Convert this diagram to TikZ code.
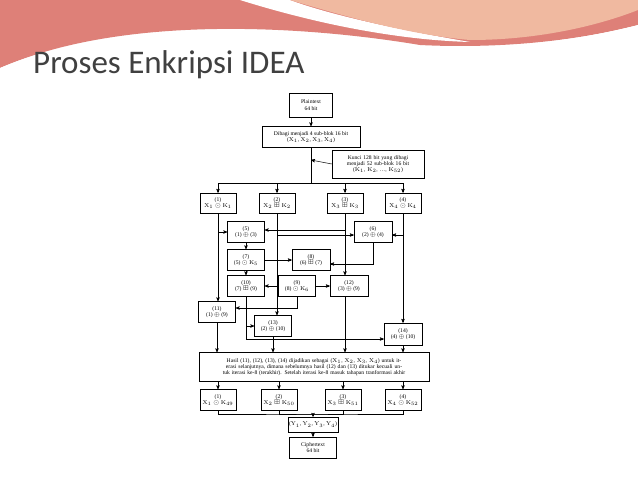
\documentclass[tikz,border=0pt]{standalone}
\usepackage{amsmath}
\usepackage{amssymb}
\usepackage{fontspec}
\newfontfamily\slidefont{Carlito}
\newfontfamily\boxfont{Liberation Serif}
\usetikzlibrary{arrows}
\usetikzlibrary{positioning}
\definecolor{wavepink}{RGB}{222,128,120}
\definecolor{wavepeach}{RGB}{240,185,160}
\definecolor{titlegray}{RGB}{64,64,64}
\newcommand{\tinytext}{\boxfont\fontsize{5.6}{6.2}\selectfont}
\newcommand{\X}[1]{\mathrm{X}_{#1}}
\newcommand{\K}[1]{\mathrm{K}_{#1}}
\newcommand{\Y}[1]{\mathrm{Y}_{#1}}

\begin{document}
\begin{tikzpicture}[x=1pt,y=-1pt,>=stealth',shorten >=0pt,
    step box/.style={draw,line width=0.5pt,fill=white,font=\tinytext,align=center,inner sep=1pt,minimum width=36pt,minimum height=21pt},
    wide box/.style={step box,text width=#1},
    flow/.style={->,line width=0.5pt}]
   \useasboundingbox (0,0) rectangle (638,479);
   % slide background
   \fill[white] (0,0) rectangle (638,479);
   \fill[wavepink] (0,0) -- (638,0) -- (638,25) .. controls (560,45) and (480,48) .. (420,45)
      .. controls (300,25) and (120,15) .. (0,68) -- cycle;
   \fill[white] (240,0) .. controls (320,25) and (400,40) .. (470,42)
      .. controls (400,30) and (330,15) .. (290,0) -- cycle;
   \fill[wavepeach] (290,0) .. controls (340,15) and (410,35) .. (470,40)
      .. controls (540,40) and (600,25) .. (638,10) -- (638,0) -- cycle;
   \fill[white] (0,68) .. controls (120,18) and (300,28) .. (420,46)
      .. controls (480,50) and (560,45) .. (638,25) -- (638,30)
      .. controls (560,50) and (480,55) .. (420,52) .. controls (300,35) and (120,30) .. (0,75) -- cycle;
   \node[anchor=base west,font=\slidefont\fontsize{33}{36}\selectfont,text=titlegray,inner sep=0pt] (title) at (33,73) {Proses Enkripsi IDEA};

   % diagram
   \node[step box,minimum width=43pt,minimum height=24pt] (plain) at (311,105) {Plaintext\\64 bit};
   \node[step box,minimum width=98pt] (split) at (311,137) {Dibagi menjadi 4 sub-blok 16 bit\\($\X1$, $\X2$, $\X3$, $\X4$)};
   \node[wide box=90pt,minimum height=28pt] (key) at (378,164) {Kunci 128 bit yang dibagi menjadi 52 sub-blok 16 bit\\($\K1$, $\K2$, \dots, $\K{52}$)};
   \node[step box,minimum height=20pt] (s1) at (218,203) {(1)\\$\X1\odot\K1$};
   \node[step box,minimum height=20pt] (s2) at (277,203) {(2)\\$\X2\boxplus\K2$};
   \node[step box,minimum height=20pt] (s3) at (345,203) {(3)\\$\X3\boxplus\K3$};
   \node[step box,minimum height=20pt] (s4) at (403,203) {(4)\\$\X4\odot\K4$};
   \node[step box,minimum width=37pt] (s5) at (246,232) {(5)\\(1) $\oplus$ (3)};
   \node[step box,minimum width=38pt] (s6) at (373,232) {(6)\\(2) $\oplus$ (4)};
   \node[step box,minimum width=37pt] (s7) at (246,260) {(7)\\(5) $\odot$ $\K5$};
   \node[step box,minimum width=38pt] (s8) at (311,260) {(8)\\(6) $\boxplus$ (7)};
   \node[step box,minimum width=37pt] (s10) at (246,286) {(10)\\(7) $\boxplus$ (9)};
   \node[step box,minimum width=37pt] (s9) at (297,286) {(9)\\(8) $\odot$ $\K6$};
   \node[step box,minimum width=38pt] (s12) at (349,286) {(12)\\(3) $\oplus$ (9)};
   \node[step box,minimum width=37pt] (s11) at (217,312) {(11)\\(1) $\oplus$ (9)};
   \node[step box,minimum width=37pt] (s13) at (273,326) {(13)\\(2) $\oplus$ (10)};
   \node[step box,minimum width=38pt,minimum height=22pt] (s14) at (403,334) {(14)\\(4) $\oplus$ (10)};
   \node[wide box=228pt,minimum height=29pt] (result) at (314,367) {\hyphenpenalty=10000 Hasil (11), (12), (13), (14) dijadikan sebagai ($\X1$, $\X2$, $\X3$, $\X4$) untuk iterasi selanjutnya, dimana sebelumnya hasil (12) dan (13) ditukar kecuali untuk iterasi ke-8 (terakhir). Setelah iterasi ke-8 masuk tahapan tranformasi akhir};
   \node[step box] (f1) at (218,400) {(1)\\$\X1\odot\K{49}$};
   \node[step box] (f2) at (279,400) {(2)\\$\X2\boxplus\K{50}$};
   \node[step box] (f3) at (343,400) {(3)\\$\X3\boxplus\K{51}$};
   \node[step box] (f4) at (403,400) {(4)\\$\X4\odot\K{52}$};
   \node[step box,minimum width=48pt,minimum height=15pt] (out) at (313,424.5) {($\Y1$, $\Y2$, $\Y3$, $\Y4$)};
   \node[step box,minimum width=47pt,minimum height=21pt] (cipher) at (313,447.5) {Ciphertext\\64 bit};

   \coordinate (bus) at (311,183);
   \coordinate (keyin) at (311,160);
   \coordinate (lowbus) at (313,414);

   \draw[flow] (plain) -- (split);
   \draw[line width=0.5pt] (split) -- (bus);
   \draw[flow] (key.west) -- (keyin);
   \draw[line width=0.5pt] (s1.north |- bus) -- (s4.north |- bus);
   \foreach \s in {s1,s2,s3,s4}
     \draw[flow] (bus -| \s.north) -- (\s.north);
   % first round
   \draw[flow] (s1.south) -- (s11.north -| s1.south);
   \draw[flow] (s1.south |- s5) -- (s5.west);
   \draw[flow] ([yshift=2pt]s3.south |- s5.east) -- ([yshift=2pt]s5.east);
   \draw[flow] ([yshift=-3pt]s2.south |- s6.west) -- ([yshift=-3pt]s6.west);
   \draw[flow] ([yshift=-3pt]s4.south |- s6.east) -- ([yshift=-3pt]s6.east);
   \draw[flow] (s5) -- (s7);
   \draw[flow] (s7) -- (s10);
   \draw[flow] (s7) -- (s8);
   \draw[flow] (s6.south) |- ([yshift=-4pt]s8.east);
   \draw[flow] (s9) -- (s10);
   \draw[flow] (s9) -- (s12);
   \draw[flow] (s3.south) -- (s12.north -| s3.south);
   \draw[flow] (s9.south) |- ([yshift=4pt]s11.east);
   \draw[flow] (s2.south) -- (s13.north -| s2.south);
   \draw[flow] (s10.south) |- (s13.west);
   \draw[flow] (s10.south) |- ([yshift=-5pt]s14.west);
   \draw[flow] (s4.south) -- (s14.north);
   % to result
   \draw[flow] (s11.south) -- (result.north -| s11.south);
   \draw[flow] (s13.south) -- (result.north -| s13.south);
   \draw[flow] (s3.south |- s12.south) -- (result.north -| s3.south);
   \draw[flow] (s14.south) -- (result.north -| s14.south);
   % output transformation
   \foreach \s in {f1,f2,f3,f4}
     \draw[flow] (result.south -| \s.north) -- (\s.north);
   \draw[line width=0.5pt] (f1.south) |- (lowbus) -| (f4.south);
   \draw[line width=0.5pt] (f2.south) |- (lowbus) -| (f3.south);
   \draw[flow] (lowbus) -- (out);
   \draw[flow] (out) -- (cipher);
\end{tikzpicture}
\end{document}
